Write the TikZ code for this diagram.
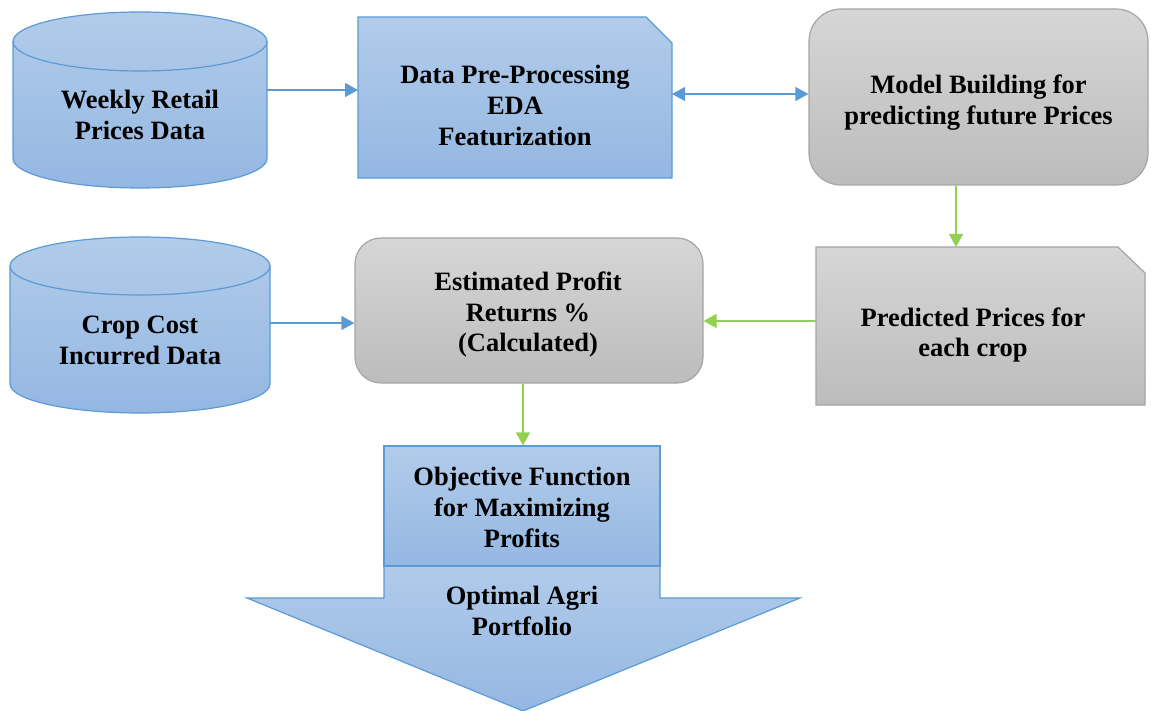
\documentclass[tikz,border=0pt]{standalone}
\usepackage{fontspec}
\setmainfont{Liberation Serif}
\usetikzlibrary{arrows.meta}
\definecolor{bluetop}{HTML}{B2CCEA}
\definecolor{bluebot}{HTML}{94B7E2}
\definecolor{blueline}{HTML}{5B9BD5}
\definecolor{graytop}{HTML}{D6D6D6}
\definecolor{graybot}{HTML}{BCBCBC}
\definecolor{grayline}{HTML}{A5A5A5}
\definecolor{greenline}{HTML}{92D050}
\begin{document}
\begin{tikzpicture}[x=1pt,y=-1pt,
  txt/.style={font=\bfseries\fontsize{26.5}{30.8}\selectfont, align=center, text=black, inner sep=0pt},
  area/.style={inner sep=0pt, outer sep=0pt},
  bluefill/.style={top color=bluetop, bottom color=bluebot, draw=blueline, line width=1.2pt},
  grayfill/.style={top color=graytop, bottom color=graybot, draw=grayline, line width=1.2pt},
  bluearrow/.style={draw=blueline, line width=1.2pt, -{Triangle[length=13pt,width=14pt]}},
  greenarrow/.style={draw=greenline, line width=1.2pt, -{Triangle[length=13pt,width=14pt]}},
]
\useasboundingbox (0,0) rectangle (1151,711);
\fill[white] (0,0) rectangle (1151,711);

% cylinder 1
\shadedraw[bluefill] (13,41.5) arc[start angle=180,end angle=360,x radius=127,y radius=29.5]
  -- (267,158.5) arc[start angle=0,end angle=180,x radius=127,y radius=29.5] -- cycle;
\draw[blueline, line width=1.2pt] (13,41.5) arc[start angle=180,end angle=0,x radius=127,y radius=29.5];
\node[area, minimum width=254pt, minimum height=176pt] (c1) at (140,100) {};
\node[txt] (c1t) at (140,115) {Weekly Retail\\Prices Data};

% cylinder 2
\shadedraw[bluefill] (10,266) arc[start angle=180,end angle=360,x radius=130,y radius=29]
  -- (270,384) arc[start angle=0,end angle=180,x radius=130,y radius=29] -- cycle;
\draw[blueline, line width=1.2pt] (10,266) arc[start angle=180,end angle=0,x radius=130,y radius=29];
\node[area, minimum width=260pt, minimum height=176pt] (c2) at (140,325) {};
\node[txt] (c2t) at (140,340) {Crop Cost\\Incurred Data};

% data pre-processing (snipped corner)
\shadedraw[bluefill] (358,17) -- (646,17) -- (672,43) -- (672,178) -- (358,178) -- cycle;
\node[area, minimum width=314pt, minimum height=161pt] (dp) at (515,97.5) {};
\node[txt] (dpt) at (515,105.5) {Data Pre-Processing\\EDA\\Featurization};

% model building
\node[grayfill, rounded corners=32pt, minimum width=339pt, minimum height=176pt] (model) at (978.5,97) {};
\node[txt] (modelt) at (978.5,102.5) {Model Building for\\predicting future Prices};

% predicted prices (snipped corner)
\shadedraw[grayfill] (816,247) -- (1118,247) -- (1145,273) -- (1145,405) -- (816,405) -- cycle;
\node[area, minimum width=329pt, minimum height=158pt] (pred) at (980.5,326) {};
\node[txt] (predt) at (973,335) {Predicted Prices for\\each crop};

% estimated profit
\node[grayfill, rounded corners=26pt, minimum width=348pt, minimum height=145pt] (est) at (529,310.5) {};
\node[txt] (estt) at (528,314.5) {Estimated Profit\\Returns \%\\(Calculated)};

% big arrow
\shadedraw[bluefill] (384,560) -- (660,560) -- (660,598) -- (800,598) -- (523,711) -- (247,598) -- (384,598) -- cycle;
\node[txt] (port) at (522,611) {Optimal Agri\\Portfolio};

% objective function
\node[bluefill, minimum width=276pt, minimum height=120pt] (obj) at (522,506) {};
\node[txt] (objt) at (522,507.5) {Objective Function\\for Maximizing\\Profits};

% connectors
\coordinate (r1) at (0,90);
\draw[bluearrow] (c1.east |- r1) -- (dp.west |- r1);
\coordinate (r2) at (0,94);
\draw[bluearrow, {Triangle[length=13pt,width=14pt]}-{Triangle[length=13pt,width=14pt]}] (dp.east |- r2) -- (model.west |- r2);
\coordinate (k1) at (956,0);
\draw[greenarrow] (k1 |- model.south) -- (k1 |- pred.north);
\coordinate (r3) at (0,321);
\draw[greenarrow] (pred.west |- r3) -- (est.east |- r3);
\coordinate (r4) at (0,323);
\draw[bluearrow] (c2.east |- r4) -- (est.west |- r4);
\coordinate (k2) at (523,0);
\draw[greenarrow] (k2 |- est.south) -- (k2 |- obj.north);
\end{tikzpicture}
\end{document}
